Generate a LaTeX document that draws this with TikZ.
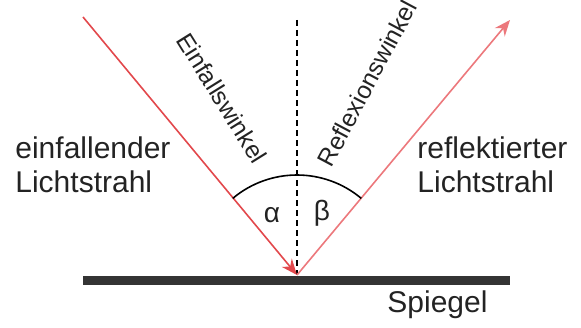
\documentclass[tikz,border=0pt]{standalone}
\usepackage{fontspec}
\setmainfont{Liberation Sans}
\usetikzlibrary{arrows.meta, positioning, calc}
\definecolor{RayRed}{RGB}{226, 72, 76}
\definecolor{RayPink}{RGB}{236, 120, 124}
\definecolor{MirrorDark}{RGB}{52, 52, 52}
\definecolor{TextDark}{RGB}{35, 35, 35}

\begin{document}
\begin{tikzpicture}[x=0.5pt,y=0.5pt,
    ray/.style={line width=0.8pt, -{Stealth[length=8pt, width=6.5pt]}},
    lbl/.style={text=TextDark, inner sep=0pt, align=left, font=\fontsize{15}{17}\selectfont},
    anglbl/.style={text=TextDark, inner sep=0pt, font=\fontsize{12.3}{14}\selectfont},
    greek/.style={text=TextDark, inner sep=0pt, font=\fontsize{14}{16}\selectfont}]
  \path[use as bounding box] (0,0) rectangle (581,327);

  % mirror, normal and the two rays
  \coordinate (hit) at (297,52);
  \coordinate (src) at (83,310);
  \coordinate (out) at (510,307);
  \coordinate (ntop) at (297,307);
  \coordinate (mleft) at (83,46.5);
  \coordinate (mright) at (510,46.5);

  \draw[MirrorDark, line width=4.5pt] (mleft) -- (mright);
  \draw[black, line width=1.2pt, dash pattern=on 3.2pt off 1.8pt] (ntop) -- (hit);
  \draw[RayRed, ray] (src) -- (hit);
  \draw[RayPink, ray] (hit) -- (out);

  % angle arc
  \draw[black, line width=0.8pt] ($(hit)+(50:50pt)$) arc[start angle=50, end angle=130, radius=50pt];
  \node[greek] (alpha) at (272,112) {α};
  \node[greek] (beta) at (322,114) {β};

  % labels
  \node[lbl, anchor=west] (inlbl) at (15,162) {einfallender\\Lichtstrahl};
  \node[lbl, anchor=west] (outlbl) at (417,162) {reflektierter\\Lichtstrahl};
  \node[lbl, anchor=west] (mirlbl) at (387,22) {Spiegel};
  \node[anglbl, rotate=-58] (inang) at (222,229) {Einfallswinkel};
  \node[anglbl, rotate=62] (outang) at (367,244) {Reflexionswinkel};
\end{tikzpicture}
\end{document}
